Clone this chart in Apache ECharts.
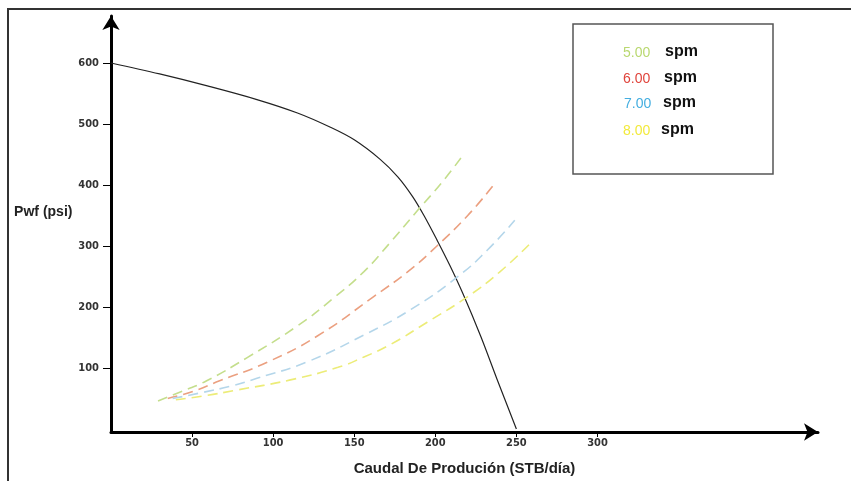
<!DOCTYPE html>
<html>
<head>
<meta charset="utf-8">
<script src="https://cdn.jsdelivr.net/npm/echarts@6/dist/echarts.min.js"></script>
<style>
  html, body { margin: 0; padding: 0; background: #fff; }
  #chart { width: 851px; height: 481px; }
</style>
</head>
<body>
<div id="chart"></div>
<script>
  // IPR curve (caudal STB/dia, Pwf psi)
  const iprCurve = [
    [0, 600], [30, 582], [60, 562], [90, 540], [115, 518], [135, 495], [150, 474],
    [166, 442], [177, 413], [186, 381], [193, 350], [201, 310], [209, 268],
    [217, 222], [228, 152], [238, 82], [250, 0]
  ]
  // pump curves per speed
  const spm5 = [
    [29, 46], [44, 62], [59, 79], [84, 117], [115, 169], [137, 214], [156, 258],
    [172, 305], [189, 358], [204, 404], [218, 452]
  ]
  const spm6 = [
    [35, 50], [51, 62], [67, 79], [96, 109], [127, 152], [162, 217], [185, 262],
    [201, 300], [220, 350], [236, 400]
  ]
  const spm7 = [
    [38, 50], [55, 59], [75, 71], [90, 83], [121, 110], [156, 154], [185, 196],
    [214, 250], [232, 293], [249, 342]
  ]
  const spm8 = [
    [40, 48], [57, 54], [78, 64], [110, 80], [140, 101], [156, 118], [172, 138],
    [195, 175], [220, 217], [240, 258], [260, 308]
  ]
  const speedLabels = ['5.00', '6.00', '7.00', '8.00']
  const speedColors = ['#b9d870', '#e0443c', '#44aee0', '#f2ea3c']
  const lineColors = ['#c4de8c', '#eba080', '#b4d6ea', '#ecec78']
  const xTicks = [50, 100, 150, 200, 250, 300]
  const yTicks = [100, 200, 300, 400, 500, 600]

  const tickFont = '"Liberation Sans Narrow", "DejaVu Sans Condensed", sans-serif'

  let chart = echarts.init(document.getElementById('chart'))

  let pumpSeries = [spm5, spm6, spm7, spm8].map((d, i) => ({
    name: speedLabels[i] + ' spm',
    type: 'line',
    data: d,
    smooth: true,
    showSymbol: false,
    lineStyle: { color: lineColors[i], width: 1.6, type: [10, 6] }
  }))

  let legendItems = []
  const rowY = [53, 79, 104, 131]
  const numX = [623, 623, 624, 623]
  const spmX = [665, 664, 663, 661]
  speedLabels.forEach((s, i) => {
    legendItems.push({
      type: 'text', x: numX[i], y: rowY[i],
      style: { text: s, fill: speedColors[i], font: '14px "Liberation Sans", Arial', verticalAlign: 'middle' }
    })
    legendItems.push({
      type: 'text', x: spmX[i], y: rowY[i] - 1,
      style: { text: 'spm', fill: '#111', font: 'bold 16px "Liberation Sans", Arial', verticalAlign: 'middle' }
    })
  })

  let option = {
    backgroundColor: '#fff',
    animation: false,
    grid: { left: 111, right: 33, top: 16, bottom: 47, containLabel: false },
    xAxis: {
      type: 'value',
      min: 0,
      max: 436,
      name: 'Caudal De Produción (STB/día)',
      nameLocation: 'middle',
      nameGap: 29,
      nameTextStyle: { fontFamily: '"Liberation Sans", Arial', fontWeight: 'bold', fontSize: 15, color: '#222' },
      axisLine: { show: true, onZero: false, symbol: ['none', 'arrow'], symbolSize: [13, 14], lineStyle: { color: '#000', width: 3 } },
      axisTick: { show: true, customValues: xTicks, length: 5, lineStyle: { color: '#000', width: 1 } },
      axisLabel: {
        customValues: xTicks, margin: 6,
        fontFamily: tickFont, fontWeight: 'bold', fontSize: 11, color: '#333'
      },
      splitLine: { show: false }
    },
    yAxis: {
      type: 'value',
      min: -5,
      max: 677,
      name: 'Pwf (psi)',
      nameLocation: 'middle',
      nameRotate: 0,
      nameGap: 36,
      nameTextStyle: {
        fontFamily: '"Liberation Sans", Arial', fontWeight: 'bold', fontSize: 14, color: '#222',
        align: 'right', verticalAlign: 'bottom', padding: [0, 0, 5, 0]
      },
      axisLine: { show: true, onZero: false, symbol: ['none', 'arrow'], symbolSize: [13, 14], lineStyle: { color: '#000', width: 3 } },
      axisTick: { show: true, customValues: yTicks, length: 8, lineStyle: { color: '#000', width: 1 } },
      axisLabel: {
        customValues: yTicks, margin: 12,
        fontFamily: tickFont, fontWeight: 'bold', fontSize: 11, color: '#333'
      },
      splitLine: { show: false }
    },
    graphic: [
      {
        type: 'rect', silent: true,
        shape: { x: 8, y: 9, width: 900, height: 520 },
        style: { fill: 'none', stroke: '#333', lineWidth: 2 }
      },
      {
        type: 'rect', silent: true,
        shape: { x: 573, y: 24, width: 200, height: 150 },
        style: { fill: '#fff', stroke: '#555', lineWidth: 1.5 }
      }
    ].concat(legendItems),
    series: [
      {
        name: 'IPR',
        type: 'line',
        data: iprCurve,
        smooth: 0.35,
        showSymbol: false,
        lineStyle: { color: '#222', width: 1.2 }
      }
    ].concat(pumpSeries)
  }
  chart.setOption(option)
</script>
</body>
</html>
